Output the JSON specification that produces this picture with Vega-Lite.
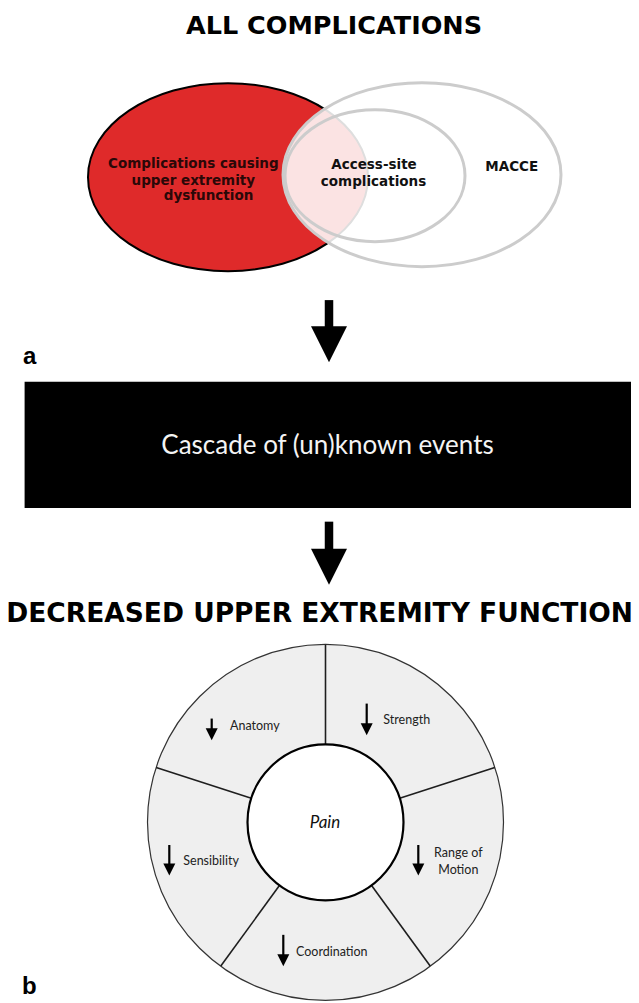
{
  "$schema": "https://vega.github.io/schema/vega-lite/v6.json",
  "width": 639,
  "height": 1003,
  "autosize": {"type": "fit", "contains": "padding"},
  "padding": 0,
  "background": "white",
  "config": {"view": {"stroke": null}},
  "datasets": {
    "red_set": [{"set": "Complications causing upper extremity dysfunction", "x": 228, "y": 177.5}],
    "all_set": [{"set": "All complications (MACCE)", "x": 422, "y": 175}],
    "access_set": [{"set": "Access-site complications", "x": 375, "y": 176}],
    "venn_red_text": [
      {"text": "Complications causing", "x": 193.3, "y": 164.3},
      {"text": "upper extremity", "x": 193.3, "y": 181},
      {"text": "dysfunction", "x": 208.5, "y": 196.7}
    ],
    "venn_text": [
      {"text": "Access-site", "x": 374, "y": 165.7},
      {"text": "complications", "x": 373.5, "y": 182.3},
      {"text": "MACCE", "x": 511.7, "y": 167.7}
    ],
    "big_arrows": [
      {"step": "complications to cascade", "x": 329, "top": 300.7, "neck": 328, "tip": 363},
      {"step": "cascade to function", "x": 329, "top": 522.7, "neck": 551, "tip": 586}
    ],
    "cascade": [{"text": "Cascade of (un)known events", "x": 24.6, "x2": 631, "y": 382.5, "y2": 509, "tx": 327.5, "ty": 446.7}],
    "title_top": [{"text": "ALL COMPLICATIONS", "x": 334, "y": 26}],
    "title_bottom": [{"text": "DECREASED UPPER EXTREMITY FUNCTION", "x": 319.6, "y": 615}],
    "panels": [
      {"text": "a", "x": 23, "y": 365},
      {"text": "b", "x": 22, "y": 996}
    ],
    "wheel": [{"part": "wheel", "x": 325.5, "y": 824}],
    "dividers": [
      {"x": 325.5, "y": 746, "x2": 325.5, "y2": 646},
      {"x": 251.3, "y": 799.9, "x2": 156.2, "y2": 769.0},
      {"x": 399.7, "y": 799.9, "x2": 494.8, "y2": 769.0},
      {"x": 279.6, "y": 887.1, "x2": 220.8, "y2": 968.0},
      {"x": 371.4, "y": 887.1, "x2": 430.2, "y2": 968.0}
    ],
    "domain_left": [
      {"text": "Anatomy", "x": 230, "y": 727},
      {"text": "Strength", "x": 383.3, "y": 721.7},
      {"text": "Sensibility", "x": 183.3, "y": 862.7},
      {"text": "Coordination", "x": 296, "y": 954}
    ],
    "domain_center": [
      {"text": "Range of", "x": 458.3, "y": 855},
      {"text": "Motion", "x": 458.3, "y": 871.7}
    ],
    "small_arrows": [
      {"domain": "Anatomy", "x": 211.7, "top": 720, "neck": 731, "tip": 741.7},
      {"domain": "Strength", "x": 366.7, "top": 705, "neck": 726, "tip": 736.7},
      {"domain": "Sensibility", "x": 169.3, "top": 846.7, "neck": 866.5, "tip": 877.3},
      {"domain": "Range of Motion", "x": 418.3, "top": 846.7, "neck": 866.5, "tip": 877.3},
      {"domain": "Coordination", "x": 283.3, "top": 936.7, "neck": 957.5, "tip": 968.3}
    ],
    "center": [{"text": "Pain", "x": 325, "y": 825}]
  },
  "encoding": {
    "x": {"field": "x", "type": "quantitative", "scale": {"domain": [0, 639], "nice": false, "zero": false}, "axis": null},
    "y": {"field": "y", "type": "quantitative", "scale": {"domain": [0, 1003], "nice": false, "zero": false, "reverse": true}, "axis": null}
  },
  "layer": [
    {
      "data": {"name": "red_set"},
      "mark": {"type": "point", "shape": "M -1 0 A 1 0.6714 0 1 1 1 0 A 1 0.6714 0 1 1 -1 0 Z", "size": 78400, "filled": true, "fill": "#df2a2a", "fillOpacity": 1, "stroke": "#000000", "strokeWidth": 2, "opacity": 1}
    },
    {
      "data": {"name": "all_set"},
      "mark": {"type": "point", "shape": "M -1 0 A 1 0.6619 0 1 1 1 0 A 1 0.6619 0 1 1 -1 0 Z", "size": 77284, "filled": true, "fill": "#ffffff", "fillOpacity": 0.87, "stroke": "#cccccc", "strokeWidth": 3, "opacity": 1}
    },
    {
      "data": {"name": "access_set"},
      "mark": {"type": "point", "shape": "M -1 0 A 1 0.7333 0 1 1 1 0 A 1 0.7333 0 1 1 -1 0 Z", "size": 32400, "filled": false, "stroke": "#cccccc", "strokeWidth": 3, "opacity": 1}
    },
    {
      "data": {"name": "venn_red_text"},
      "mark": {"type": "text", "font": "DejaVu Sans", "fontWeight": "bold", "fontSize": 13.5, "align": "center", "baseline": "middle", "color": "#2a0808"},
      "encoding": {"text": {"field": "text"}}
    },
    {
      "data": {"name": "venn_text"},
      "mark": {"type": "text", "font": "DejaVu Sans", "fontWeight": "bold", "fontSize": 13.5, "align": "center", "baseline": "middle", "color": "#111111"},
      "encoding": {"text": {"field": "text"}}
    },
    {
      "data": {"name": "big_arrows"},
      "mark": {"type": "rule", "color": "#000000", "strokeWidth": 8.5},
      "encoding": {"y": {"field": "top", "type": "quantitative"}, "y2": {"field": "neck"}}
    },
    {
      "data": {"name": "big_arrows"},
      "mark": {"type": "point", "shape": "M -1 -2 L 1 -2 L 0 0 Z", "size": 1296, "filled": true, "color": "#000000", "opacity": 1},
      "encoding": {"y": {"field": "tip", "type": "quantitative"}}
    },
    {
      "data": {"name": "cascade"},
      "mark": {"type": "rect", "color": "#000000"},
      "encoding": {"x2": {"field": "x2"}, "y2": {"field": "y2"}}
    },
    {
      "data": {"name": "cascade"},
      "mark": {"type": "text", "font": "Lato", "fontSize": 26, "align": "center", "baseline": "middle", "color": "#f4f4f4"},
      "encoding": {"x": {"field": "tx", "type": "quantitative"}, "y": {"field": "ty", "type": "quantitative"}, "text": {"field": "text"}}
    },
    {
      "data": {"name": "title_top"},
      "mark": {"type": "text", "font": "DejaVu Sans", "fontWeight": "bold", "fontSize": 25.5, "align": "center", "baseline": "middle", "color": "#000000"},
      "encoding": {"text": {"field": "text"}}
    },
    {
      "data": {"name": "title_bottom"},
      "mark": {"type": "text", "font": "DejaVu Sans", "fontWeight": "bold", "fontSize": 26.5, "align": "center", "baseline": "middle", "color": "#000000"},
      "encoding": {"text": {"field": "text"}}
    },
    {
      "data": {"name": "panels"},
      "mark": {"type": "text", "font": "Liberation Sans", "fontWeight": "bold", "fontSize": 24, "align": "left", "baseline": "alphabetic", "color": "#000000"},
      "encoding": {"text": {"field": "text"}}
    },
    {
      "data": {"name": "wheel"},
      "mark": {"type": "point", "shape": "M -1 0 A 1 1 0 1 1 1 0 A 1 1 0 1 1 -1 0 Z", "size": 126736, "filled": true, "fill": "#efefef", "stroke": "#333333", "strokeWidth": 1.2, "opacity": 1}
    },
    {
      "data": {"name": "dividers"},
      "mark": {"type": "rule", "color": "#1e1e1e", "strokeWidth": 1.6},
      "encoding": {"x2": {"field": "x2"}, "y2": {"field": "y2"}}
    },
    {
      "data": {"name": "wheel"},
      "mark": {"type": "point", "shape": "M -1 0 A 1 1 0 1 1 1 0 A 1 1 0 1 1 -1 0 Z", "size": 24336, "filled": true, "fill": "#ffffff", "stroke": "#000000", "strokeWidth": 2.2, "opacity": 1}
    },
    {
      "data": {"name": "center"},
      "mark": {"type": "text", "font": "Lato", "fontStyle": "italic", "fontSize": 17, "align": "center", "baseline": "middle", "color": "#111111"},
      "encoding": {"text": {"field": "text"}}
    },
    {
      "data": {"name": "domain_left"},
      "mark": {"type": "text", "font": "Lato", "fontSize": 12.5, "align": "left", "baseline": "middle", "color": "#222222"},
      "encoding": {"text": {"field": "text"}}
    },
    {
      "data": {"name": "domain_center"},
      "mark": {"type": "text", "font": "Lato", "fontSize": 12.5, "align": "center", "baseline": "middle", "color": "#222222"},
      "encoding": {"text": {"field": "text"}}
    },
    {
      "data": {"name": "small_arrows"},
      "mark": {"type": "rule", "color": "#000000", "strokeWidth": 2.2},
      "encoding": {"y": {"field": "top", "type": "quantitative"}, "y2": {"field": "neck"}}
    },
    {
      "data": {"name": "small_arrows"},
      "mark": {"type": "point", "shape": "M -1 -2 L 1 -2 L 0 0 Z", "size": 144, "filled": true, "color": "#000000", "opacity": 1},
      "encoding": {"y": {"field": "tip", "type": "quantitative"}}
    }
  ]
}
